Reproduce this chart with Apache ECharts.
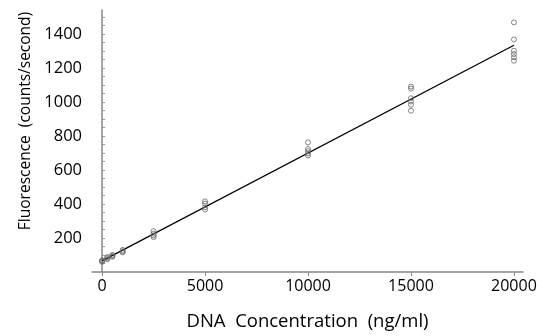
<!DOCTYPE html>
<html>
<head>
<meta charset="utf-8">
<script src="https://cdn.jsdelivr.net/npm/echarts@6/dist/echarts.min.js"></script>
<style>html,body{margin:0;padding:0;background:#fff}#c{width:548px;height:336px}</style>
</head>
<body>
<div id="c"></div>
<script>
var concentrations = [0, 250, 500, 1000, 2500, 5000, 10000, 15000, 20000];
var replicates = [
  [60, 65, 69],
  [75, 82, 88],
  [90, 95, 100],
  [115, 122, 130],
  [205, 215, 225, 240],
  [367, 380, 402, 415],
  [685, 697, 710, 723, 762],
  [948, 983, 1002, 1021, 1078, 1090],
  [1242, 1262, 1281, 1300, 1367, 1467]
];
var fitLine = [[0, 65], [20000, 1333]];
var xTickValues = [0, 5000, 10000, 15000, 20000];
var yLabelValues = [200, 400, 600, 800, 1000, 1200, 1400];
var yTickValues = [];
for (var v = 0; v <= 1500; v += 50) yTickValues.push(v);

var points = [];
concentrations.forEach(function (c, i) {
  replicates[i].forEach(function (y) { points.push([c, y]); });
});

var font = '"Open Sans", sans-serif';
var plain = function (val) { return String(val); };
var chart = echarts.init(document.getElementById('c'));
chart.setOption({
  animation: false,
  grid: { left: 92, right: 25, top: 10, bottom: 59 },
  xAxis: {
    type: 'value', min: -490, max: 20440,
    name: 'DNA  Concentration  (ng/ml)', nameLocation: 'middle', nameGap: 40,
    nameTextStyle: { color: '#000', fontSize: 18.5, fontFamily: font },
    axisLine: { show: true, onZero: false, lineStyle: { color: '#888', width: 1.5 } },
    axisTick: { show: true, customValues: xTickValues, length: 4, lineStyle: { color: '#888' } },
    axisLabel: { customValues: xTickValues, formatter: plain, color: '#000', fontSize: 16, fontFamily: font, margin: 6 },
    splitLine: { show: false }
  },
  yAxis: {
    type: 'value', min: 0, max: 1540,
    name: 'Fluorescence  (counts/second)', nameLocation: 'middle', nameGap: 58,
    nameTextStyle: { color: '#000', fontSize: 15.5, fontFamily: font, padding: [0, 0, 0, 40] },
    axisLine: { show: true, lineStyle: { color: '#888', width: 1.5 } },
    axisTick: { show: true, inside: true, customValues: yTickValues, length: 3, lineStyle: { color: '#999' } },
    axisLabel: { customValues: yLabelValues, formatter: plain, color: '#000', fontSize: 16.5, fontFamily: font, margin: 10 },
    splitLine: { show: false }
  },
  series: [
    {
      type: 'line', data: fitLine, symbol: 'none', z: 2,
      lineStyle: { color: '#000', width: 1.3 }
    },
    {
      type: 'scatter', data: points, symbol: 'circle', symbolSize: 5, z: 3,
      itemStyle: { color: 'rgba(255,255,255,0)', borderColor: '#666', borderWidth: 0.8, opacity: 1 }
    }
  ]
});
</script>
</body>
</html>
